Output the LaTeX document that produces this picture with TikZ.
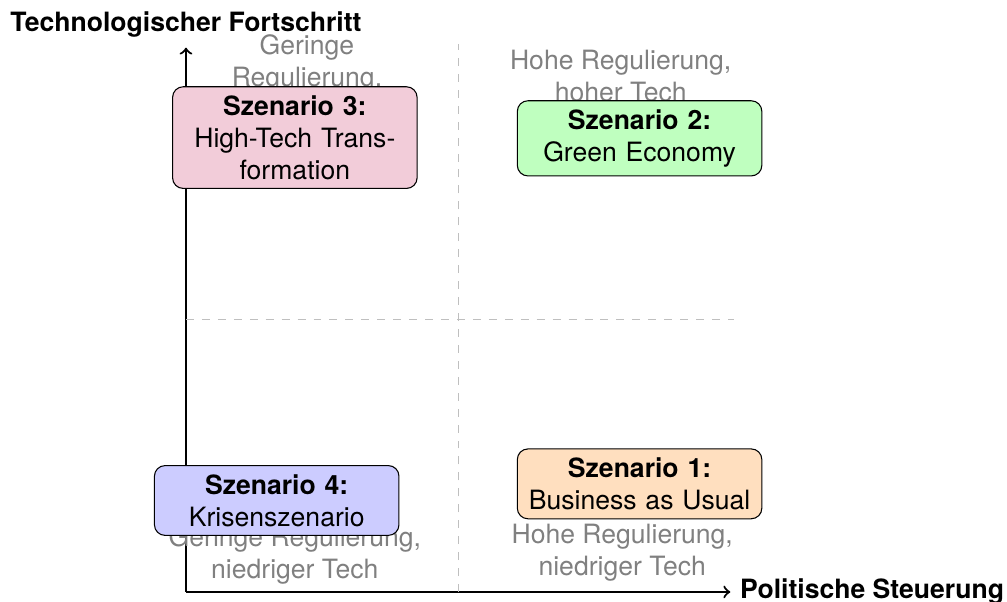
\documentclass[tikz,border=0pt]{standalone}
\usepackage{fontspec}
\setmainfont{TeX Gyre Heros}
\usetikzlibrary{positioning}

\begin{document}
\begin{tikzpicture}[
    scenario/.style={rectangle, draw, rounded corners, text width=3cm, align=center},
    quadlabel/.style={text=gray, align=center},
    axis/.style={->, thick},
    divider/.style={dashed, gray!50}
]
    \useasboundingbox (-2.46,-0.13) rectangle (10.86,7.83);

    % Axes
    \coordinate (O) at (0,0);
    \coordinate (xend) at (7.2,0);
    \coordinate (yend) at (0,7.2);
    \draw[axis] (O) -- (xend) node[right, font=\bfseries] (xlabel) {Politische Steuerung};
    \draw[axis] (O) -- (yend) node[above, font=\bfseries] (ylabel) {Technologischer Fortschritt};

    % Quadrant dividers
    \draw[divider] (3.6,0) -- (3.6,7.25);
    \draw[divider] (0,3.6) -- (7.25,3.6);

    % Quadrant labels
    \node[quadlabel] (q3) at (1.6,6.99) {Geringe\\Regulierung,};
    \node[quadlabel] (q2) at (5.75,6.82) {Hohe Regulierung,\\hoher Tech};
    \node[quadlabel] (q4) at (1.44,0.48) {Geringe Regulierung,\\niedriger Tech};
    \node[quadlabel] (q1) at (5.77,0.52) {Hohe Regulierung,\\niedriger Tech};

    % Scenarios
    \node[scenario, fill=orange!25] (s1) at (6,1.43) {\textbf{Szenario 1:}\\Business as Usual};
    \node[scenario, fill=green!25] (s2) at (6,6) {\textbf{Szenario 2:}\\Green Economy};
    \node[scenario, fill=purple!20] (s3) at (1.44,6.01) {\textbf{Szenario 3:}\\High-Tech Trans-\\formation};
    \node[scenario, fill=blue!20] (s4) at (1.2,1.21) {\textbf{Szenario 4:}\\Krisenszenario};
\end{tikzpicture}
\end{document}
